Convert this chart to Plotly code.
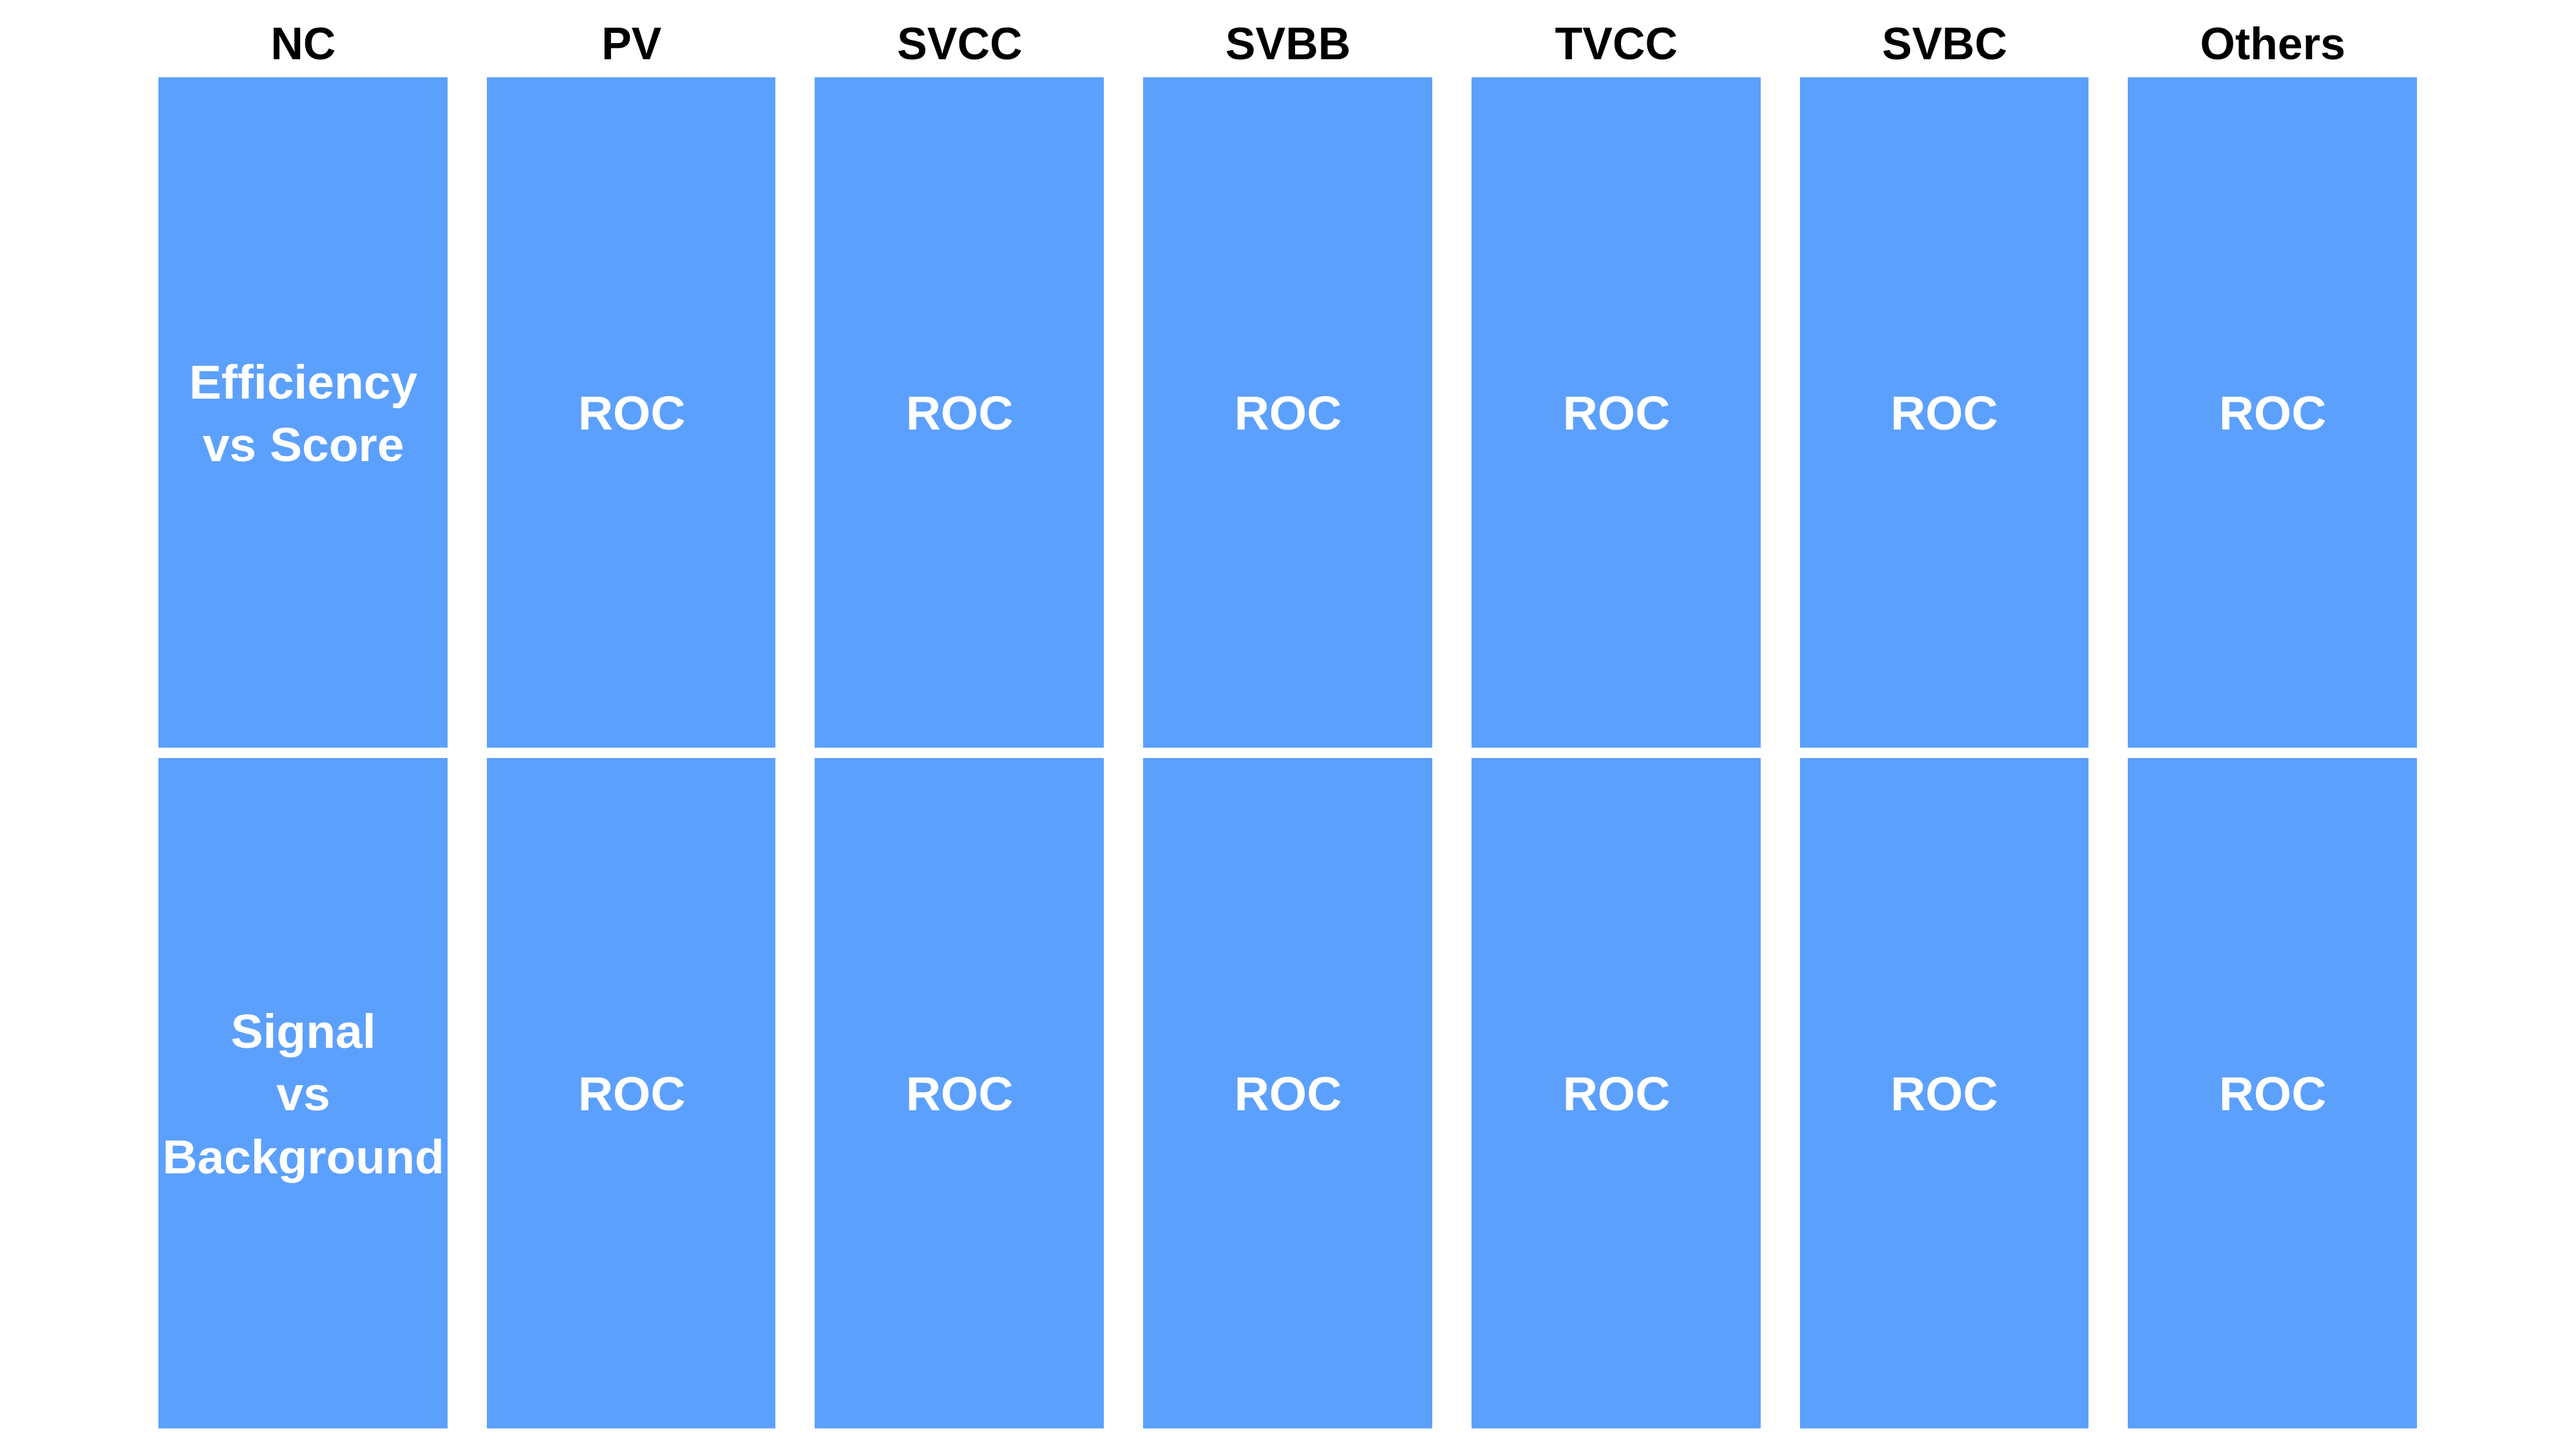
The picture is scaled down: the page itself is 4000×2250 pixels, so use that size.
import plotly.graph_objects as go

# grid layout: columns = decay categories, rows = plot types
columns = ["NC", "PV", "SVCC", "SVBB", "TVCC", "SVBC", "Others"]
rows = ["Efficiency vs Score", "Signal vs Background"]
row_labels = ["Efficiency<br>vs Score", "Signal<br>vs<br>Background"]
cell_label = "ROC"
cell_value = [1, 1]

text = [[row_labels[i]] + [cell_label] * (len(columns) - 1) for i in range(len(rows))]
z = [[cell_value[i]] * len(columns) for i in range(len(rows))]

blue = "#5CA0FE"

fig = go.Figure(go.Heatmap(
    x=columns,
    y=rows,
    z=z,
    text=text,
    texttemplate="%{text}",
    textfont=dict(color="white", size=75, family="Liberation Sans", weight="bold"),
    colorscale=[[0, blue], [1, blue]],
    showscale=False,
    xgap=61,
    ygap=16,
    hoverinfo="skip",
))

fig.update_layout(
    width=4000,
    height=2250,
    margin=dict(l=208, r=224, t=104, b=32),
    paper_bgcolor="white",
    plot_bgcolor="white",
    xaxis=dict(side="top", showgrid=False, zeroline=False, ticks="",
               ticklabelstandoff=5,
               tickfont=dict(size=70, color="black", family="Liberation Sans", weight="bold")),
    yaxis=dict(visible=False, autorange="reversed", showgrid=False, zeroline=False),
)

fig.write_html("out.html")
